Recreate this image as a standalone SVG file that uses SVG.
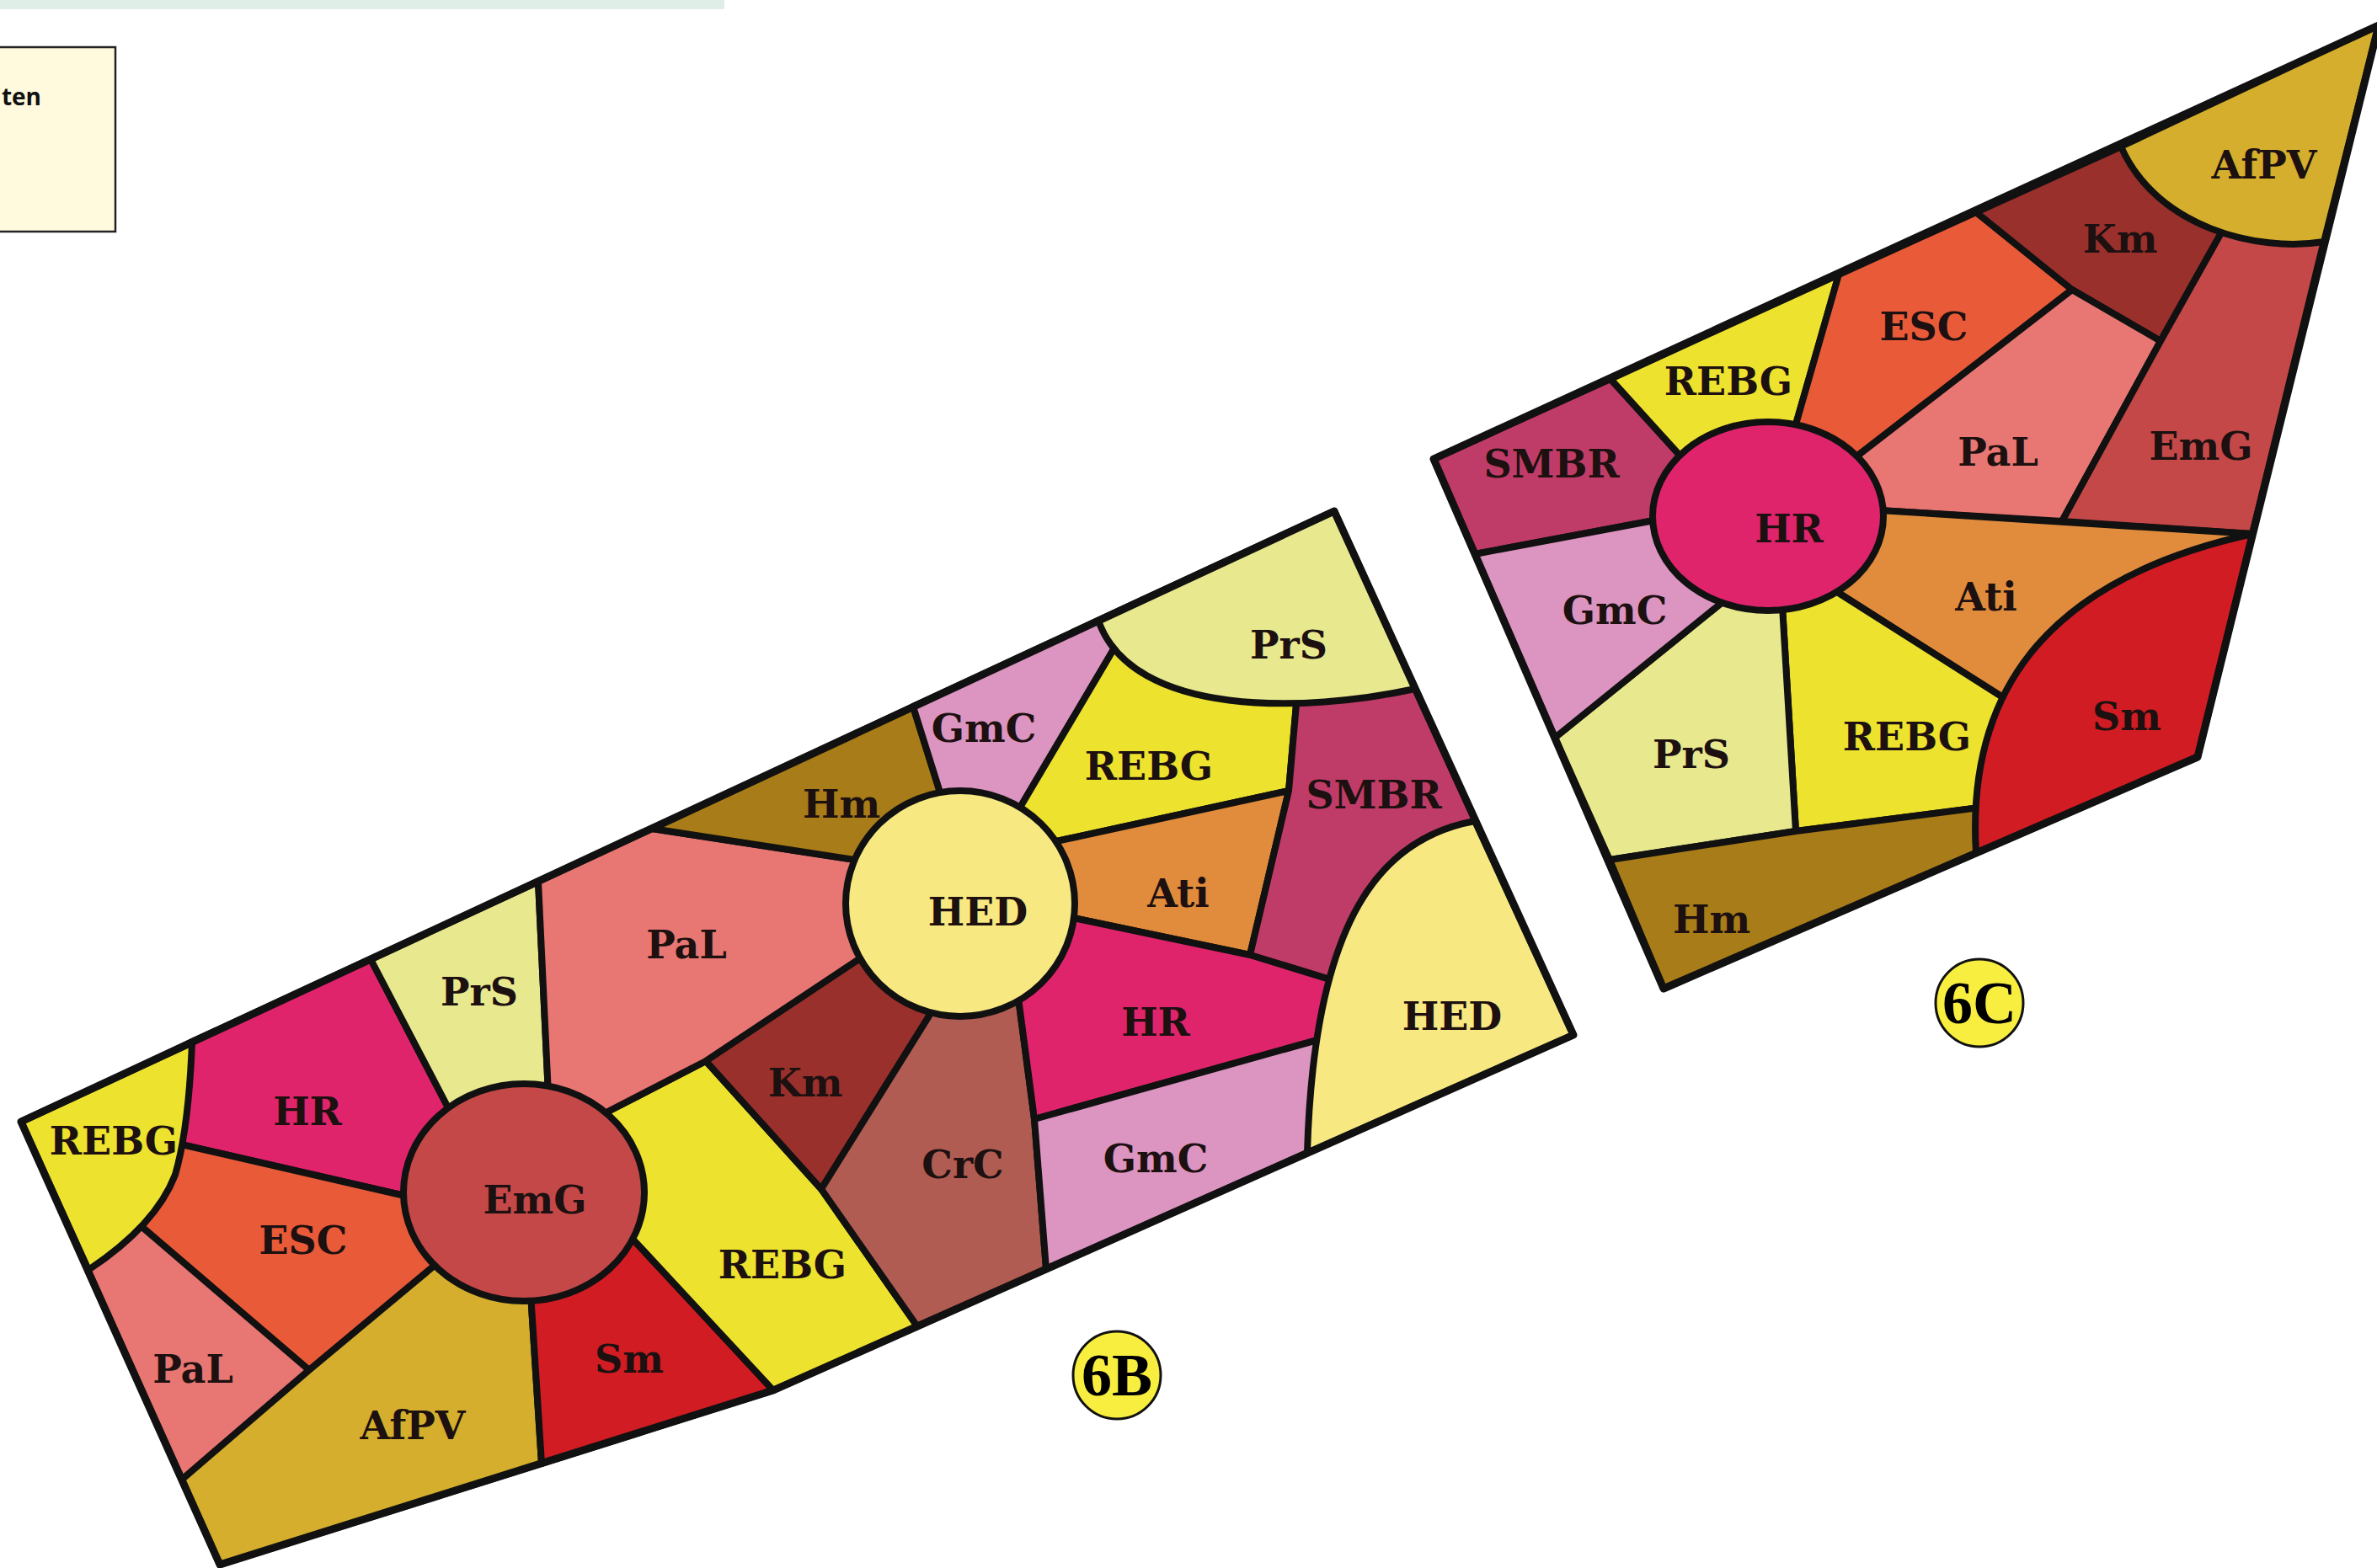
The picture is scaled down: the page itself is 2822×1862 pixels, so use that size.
<svg xmlns="http://www.w3.org/2000/svg" width="2822" height="1862" viewBox="0 0 2822 1862">
<style>
.r{stroke:#111;stroke-width:8;stroke-linejoin:round}
.o{fill:none;stroke:#111;stroke-width:9;stroke-linejoin:round}
.l{font-family:"DejaVu Serif",serif;font-weight:bold;font-size:46px;fill:#1c1010;text-anchor:middle}
.b{font-family:"Liberation Serif",serif;font-weight:bold;font-size:72px;fill:#000;text-anchor:middle}
.REBG{fill:#ede22e}.HR{fill:#e0246c}.ESC{fill:#e85a38}.PaL{fill:#e87672}.AfPV{fill:#d4ae2c}
.Sm{fill:#d01c22}.EmG{fill:#c44848}.PrS{fill:#e8e88e}.Km{fill:#9a302c}.CrC{fill:#b05c52}
.Hm{fill:#a87c18}.GmC{fill:#dc94c0}.Ati{fill:#e08c3c}.SMBR{fill:#c03c68}.HED{fill:#f8e882}
</style>
<rect width="2822" height="1862" fill="#ffffff"/>
<rect x="0" y="0" width="860" height="11" fill="#e0eee8"/>
<g id="legend">
<rect x="-5" y="56" width="142" height="219" fill="#fff9de" stroke="#222" stroke-width="2.5"/>
<text x="49" y="125" font-family="'Open Sans',sans-serif" font-weight="bold" font-size="28" text-anchor="end" fill="#111">ten</text>
</g>

<!-- PLAN 6B -->
<g id="plan-6B">
<g id="b-HR1"><polygon class="r HR" points="440,1139 536,1323 622,1416 485,1421 150,1344 175,1263 226,1238"/><text class="l" x="365" y="1336">HR</text></g>
<g id="b-ESC"><polygon class="r ESC" points="485,1421 150,1344 130,1424 367,1627 530,1491 622,1416"/><text class="l" x="360" y="1489">ESC</text></g>
<g id="b-PaL1"><polygon class="r PaL" points="130,1424 367,1627 216,1757 104,1508"/><text class="l" x="229" y="1642">PaL</text></g>
<g id="b-AfPV"><polygon class="r AfPV" points="216,1757 367,1627 530,1491 622,1416 629,1520 643,1738 261,1858"/><text class="l" x="490" y="1709">AfPV</text></g>
<g id="b-Sm"><polygon class="r Sm" points="629,1520 622,1416 749,1469 918,1651 643,1738"/><text class="l" x="747" y="1630">Sm</text></g>
<g id="b-REBG2"><polygon class="r REBG" points="749,1469 622,1416 710,1326 838,1260 975,1412 1089,1575 918,1651"/><text class="l" x="929" y="1518">REBG</text></g>
<g id="b-PrS1"><polygon class="r PrS" points="440,1139 639,1047 651,1300 622,1416 536,1323"/><text class="l" x="569" y="1194">PrS</text></g>
<g id="b-PaL2"><polygon class="r PaL" points="639,1047 774,984 1021,1022 1140,1073 1035,1129 838,1260 710,1326 622,1416 651,1300"/><text class="l" x="815" y="1138">PaL</text></g>
<g id="b-Km"><polygon class="r Km" points="838,1260 1035,1129 1140,1073 1112,1192 975,1412"/><text class="l" x="956" y="1302">Km</text></g>
<g id="b-CrC"><polygon class="r CrC" points="975,1412 1112,1192 1140,1073 1207,1170 1228,1329 1242,1507 1089,1575"/><text class="l" x="1143" y="1399">CrC</text></g>
<g id="b-Hm"><polygon class="r Hm" points="774,984 1084,839 1117,944 1140,1073 1021,1022"/><text class="l" x="999" y="971">Hm</text></g>
<g id="b-GmC1"><polygon class="r GmC" points="1084,839 1357,712 1205,969 1140,1073 1117,944"/><text class="l" x="1168" y="881">GmC</text></g>
<g id="b-REBG3"><polygon class="r REBG" points="1357,712 1558,619 1530,939 1245,1001 1140,1073 1205,969"/><text class="l" x="1364" y="926">REBG</text></g>
<g id="b-Ati"><polygon class="r Ati" points="1245,1001 1530,939 1484,1134 1255,1086 1140,1073"/><text class="l" x="1399" y="1077">Ati</text></g>
<g id="b-SMBR"><polygon class="r SMBR" points="1558,619 1584,607 1780,1037 1650,1185 1484,1134 1530,939"/><text class="l" x="1631" y="960">SMBR</text></g>
<g id="b-HR2"><polygon class="r HR" points="1140,1073 1255,1086 1484,1134 1650,1185 1650,1211 1228,1329 1207,1170"/><text class="l" x="1372" y="1230">HR</text></g>
<g id="b-GmC2"><polygon class="r GmC" points="1228,1329 1650,1211 1650,1325 1242,1507"/><text class="l" x="1372" y="1392">GmC</text></g>
<g id="b-REBG1"><path class="r REBG" d="M25,1332 L228,1238 Q224,1340 208,1395 Q185,1455 105,1508 Z"/><text class="l" x="135" y="1371">REBG</text></g>
<g id="b-PrS2"><path class="r PrS" d="M1304,737 L1584,607 L1680,818 C1551,846 1345,853 1304,737 Z"/><text class="l" x="1530" y="782">PrS</text></g>
<g id="b-HED2"><path class="r HED" d="M1751,975 L1868,1229 L1552,1369 C1560,1090 1640,995 1751,975 Z"/><text class="l" x="1724" y="1223">HED</text></g>
<g id="b-EmG"><ellipse class="r EmG" cx="622" cy="1416" rx="143" ry="129"/><text class="l" x="635" y="1441">EmG</text></g>
<g id="b-HED1"><ellipse class="r HED" cx="1140" cy="1073" rx="136" ry="134"/><text class="l" x="1161" y="1099">HED</text></g>
<polygon class="o" points="25,1332 1584,607 1868,1229 918,1651 261,1858"/>
<g id="badge-6B"><circle cx="1326" cy="1633" r="52" fill="#f8ee40" stroke="#111" stroke-width="3"/><text class="b" x="1326" y="1657">6B</text></g>
</g>

<!-- PLAN 6C -->
<g id="plan-6C">
<g id="c-SMBR"><polygon class="r SMBR" points="1702,545 1912,450 2000,547 2099,613 1985,614 1751,658"/><text class="l" x="1842" y="567">SMBR</text></g>
<g id="c-REBG1"><polygon class="r REBG" points="1912,450 2183,326 2128,518 2099,613 2000,547"/><text class="l" x="2052" y="469">REBG</text></g>
<g id="c-ESC"><polygon class="r ESC" points="2183,326 2346,252 2460,344 2190,553 2099,613 2128,518"/><text class="l" x="2284" y="404">ESC</text></g>
<g id="c-Km"><polygon class="r Km" points="2346,252 2600,137 2680,200 2565,405 2460,344"/><text class="l" x="2517" y="300">Km</text></g>
<g id="c-PaL"><polygon class="r PaL" points="2190,553 2460,344 2565,405 2448,619 2215,605 2099,613"/><text class="l" x="2372" y="553">PaL</text></g>
<g id="c-EmG"><polygon class="r EmG" points="2565,405 2680,200 2780,200 2674,634 2448,619"/><text class="l" x="2613" y="546">EmG</text></g>
<g id="c-Ati"><polygon class="r Ati" points="2099,613 2215,605 2674,634 2630,760 2450,874 2170,696"/><text class="l" x="2358" y="725">Ati</text></g>
<g id="c-REBG2"><polygon class="r REBG" points="2099,613 2170,696 2450,874 2420,950 2132,987 2115,703"/><text class="l" x="2264" y="891">REBG</text></g>
<g id="c-PrS"><polygon class="r PrS" points="2099,613 2115,703 2132,987 1911,1021 1846,876 2055,707"/><text class="l" x="2008" y="912">PrS</text></g>
<g id="c-GmC"><polygon class="r GmC" points="1985,614 2099,613 2055,707 1846,876 1751,658"/><text class="l" x="1917" y="741">GmC</text></g>
<g id="c-Hm"><polygon class="r Hm" points="1911,1021 2132,987 2420,950 2440,972 1975,1174"/><text class="l" x="2032" y="1108">Hm</text></g>
<g id="c-AfPV"><path class="r AfPV" d="M2518,174 L2824,30 L2759,287 C2680,300 2560,270 2518,174 Z"/><text class="l" x="2688" y="212">AfPV</text></g>
<g id="c-Sm"><path class="r Sm" d="M2674,634 L2609,899 L2346,1013 C2335,830 2420,690 2674,634 Z"/><text class="l" x="2525" y="867">Sm</text></g>
<g id="c-HR"><ellipse class="r HR" cx="2099" cy="613" rx="137" ry="112"/><text class="l" x="2124" y="644">HR</text></g>
<polygon class="o" points="1702,545 2824,30 2609,899 1975,1174"/>
<g id="badge-6C"><circle cx="2350" cy="1191" r="52" fill="#f8ee40" stroke="#111" stroke-width="3"/><text class="b" x="2350" y="1215">6C</text></g>
</g>
</svg>
